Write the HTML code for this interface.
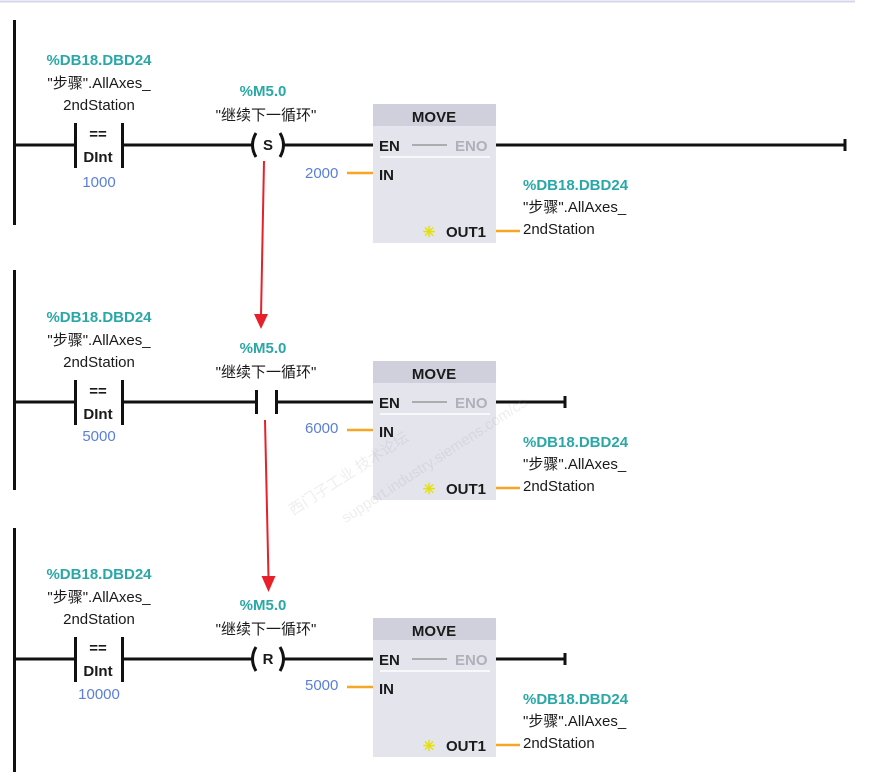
<!DOCTYPE html>
<html><head><meta charset="utf-8"><style>
html,body{margin:0;padding:0;background:#fff;width:892px;height:772px;overflow:hidden}
svg{display:block}
text{font-family:"Liberation Sans","Noto Sans CJK SC",sans-serif;font-size:15px;fill:#1a1a1a}
.t{fill:#2aa7a7;font-weight:bold}
.b{fill:#5a7fd8}
.bd{font-weight:bold}
.g{fill:#b0b0b8}
</style></head><body>
<svg width="892" height="772" viewBox="0 0 892 772">
<line x1="0" y1="1.5" x2="855" y2="1.5" stroke="#d6d6ec" stroke-width="2"/>
<defs>
<g id="cmp">
  <line x1="14" y1="0" x2="75" y2="0" stroke="#111" stroke-width="3"/>
  <line x1="75.5" y1="-22" x2="75.5" y2="23" stroke="#111" stroke-width="3"/>
  <line x1="122.5" y1="-22" x2="122.5" y2="23" stroke="#111" stroke-width="3"/>
  <text x="99" y="-80" text-anchor="middle" class="t">%DB18.DBD24</text>
  <text x="99" y="-57" text-anchor="middle">"步骤".AllAxes_</text>
  <text x="99" y="-35" text-anchor="middle">2ndStation</text>
  <text x="98" y="-6" text-anchor="middle" class="bd" font-size="13">==</text>
  <text x="98" y="17" text-anchor="middle" class="bd">DInt</text>
  <text x="263" y="-49" text-anchor="middle" class="t">%M5.0</text>
  <text x="266" y="-25" text-anchor="middle">"继续下一循环"</text>
  <rect x="373" y="-41" width="123" height="139" fill="#e3e4ec"/>
  <rect x="373" y="-41" width="123" height="22" fill="#cfd0dc"/>
  <text x="434" y="-23" text-anchor="middle" class="bd" font-size="16">MOVE</text>
  <text x="379" y="6" class="bd" font-size="16">EN</text>
  <line x1="412" y1="0" x2="447" y2="0" stroke="#999" stroke-width="1.5"/>
  <text x="455" y="6" class="bd g" font-size="16">ENO</text>
  <line x1="380" y1="12" x2="490" y2="12" stroke="#fff" stroke-width="1.5"/>
  <text x="379" y="35" class="bd" font-size="16">IN</text>
  <line x1="347" y1="28" x2="373" y2="28" stroke="#f5a623" stroke-width="2.5"/>
  <text x="429" y="92" text-anchor="middle" font-size="14" style="fill:#e6e000;font-weight:bold">✳</text>
  <text x="446" y="92" class="bd" font-size="16">OUT1</text>
  <line x1="496" y1="86" x2="520" y2="86" stroke="#f5a623" stroke-width="2.5"/>
  <text x="523" y="45" class="t">%DB18.DBD24</text>
  <text x="523" y="67">"步骤".AllAxes_</text>
  <text x="523" y="89">2ndStation</text>
</g>
<g id="coil">
  <line x1="122" y1="0" x2="252" y2="0" stroke="#111" stroke-width="3"/>
  <path d="M256,-12 Q249,0 256,12" fill="none" stroke="#111" stroke-width="3"/>
  <path d="M280,-12 Q287,0 280,12" fill="none" stroke="#111" stroke-width="3"/>
  <line x1="284" y1="0" x2="373" y2="0" stroke="#111" stroke-width="3"/>
</g>
</defs>

<!-- rung 1 -->
<line x1="14.5" y1="20" x2="14.5" y2="225" stroke="#111" stroke-width="3"/>
<g transform="translate(0,145)">
  <use href="#cmp"/><use href="#coil"/>
  <text x="268" y="5" text-anchor="middle" class="bd" font-size="13">S</text>
  <text x="99" y="42" text-anchor="middle" class="b">1000</text>
  <text x="305" y="33" class="b">2000</text>
  <line x1="496" y1="0" x2="845" y2="0" stroke="#111" stroke-width="3"/>
  <line x1="845" y1="-6" x2="845" y2="6" stroke="#111" stroke-width="3"/>
</g>

<!-- rung 2 -->
<line x1="14.5" y1="270" x2="14.5" y2="490" stroke="#111" stroke-width="3"/>
<g transform="translate(0,402)">
  <use href="#cmp"/>
  <line x1="122" y1="0" x2="256" y2="0" stroke="#111" stroke-width="3"/>
  <line x1="256.5" y1="-12" x2="256.5" y2="12" stroke="#111" stroke-width="3"/>
  <line x1="276.5" y1="-12" x2="276.5" y2="12" stroke="#111" stroke-width="3"/>
  <line x1="276" y1="0" x2="373" y2="0" stroke="#111" stroke-width="3"/>
  <text x="99" y="39" text-anchor="middle" class="b">5000</text>
  <text x="305" y="31" class="b">6000</text>
  <line x1="496" y1="0" x2="565" y2="0" stroke="#111" stroke-width="3"/>
  <line x1="565" y1="-6" x2="565" y2="6" stroke="#111" stroke-width="3"/>
</g>

<!-- rung 3 -->
<line x1="14.5" y1="528" x2="14.5" y2="772" stroke="#111" stroke-width="3"/>
<g transform="translate(0,659)">
  <use href="#cmp"/><use href="#coil"/>
  <text x="268" y="5" text-anchor="middle" class="bd" font-size="13">R</text>
  <text x="99" y="40" text-anchor="middle" class="b">10000</text>
  <text x="305" y="31" class="b">5000</text>
  <line x1="496" y1="0" x2="565" y2="0" stroke="#111" stroke-width="3"/>
  <line x1="565" y1="-6" x2="565" y2="6" stroke="#111" stroke-width="3"/>
</g>

<!-- watermark -->
<g opacity="0.16" transform="rotate(-33 450 390)">
  <text x="250" y="410" font-size="40" style="fill:#999">西门子工业 技术论坛</text>
  <text x="290" y="445" font-size="26" style="fill:#999">support.industry.siemens.com/cs</text>
</g>

<!-- red arrows -->
<line x1="264" y1="161" x2="261" y2="316" stroke="#e8202a" stroke-width="2"/>
<polygon points="254,314 268,314 261,329" fill="#e8202a"/>
<line x1="265" y1="420" x2="268.5" y2="578" stroke="#e8202a" stroke-width="2"/>
<polygon points="261.5,576 275.5,576 268.5,592" fill="#e8202a"/>
</svg>
</body></html>
